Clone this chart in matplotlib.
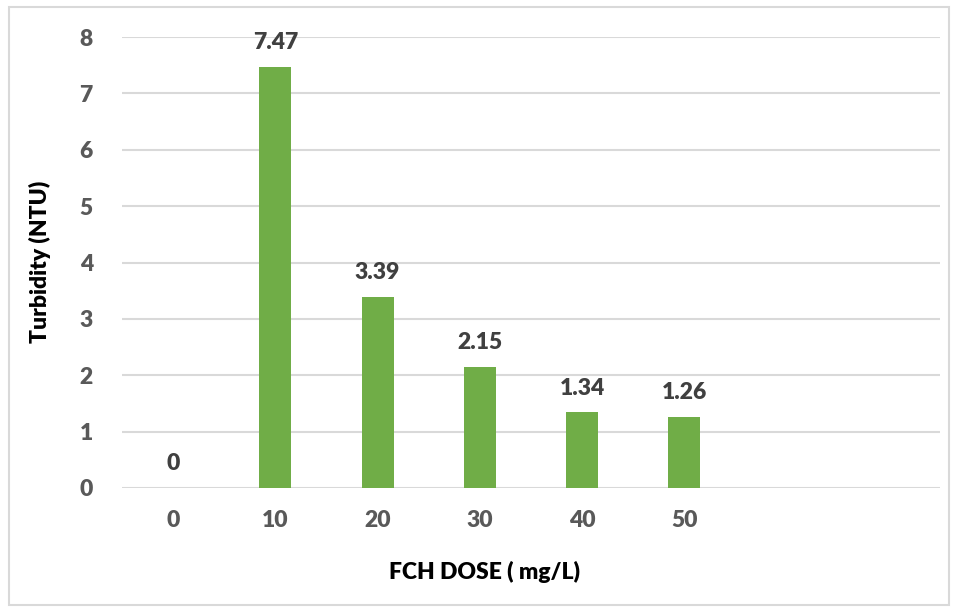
import matplotlib.pyplot as plt
from matplotlib.patches import Rectangle

doses = ['0', '10', '20', '30', '40', '50', '', '']
turbidity = [0, 7.47, 3.39, 2.15, 1.34, 1.26]

plt.rcParams['font.family'] = ['Lato', 'DejaVu Sans']

fig = plt.figure(figsize=(9.58, 6.08), dpi=100)
fig.patches.append(Rectangle((9 / 958, 3 / 608), 940 / 958, 598 / 608,
                             transform=fig.transFigure, fill=False,
                             edgecolor='#d9d9d9', linewidth=1.5))
ax = fig.add_axes([122 / 958, 1 - 488 / 608, 818 / 958, 451 / 608])

x = list(range(len(doses)))
bars = ax.bar(x[:len(turbidity)], turbidity, width=0.313, color='#70ad47', zorder=3)

for xi, v in zip(x, turbidity):
    ax.annotate(f'{v:g}', (xi, v), xytext=(0, 10), textcoords='offset points',
                ha='center', va='bottom', fontsize=16.5, fontweight='heavy', color='#404040')

ax.set_xlim(-0.5, len(doses) - 0.5)
ax.set_ylim(0, 8)
ax.set_xticks(x)
ax.set_xticklabels(doses)
ax.set_yticks(range(0, 9))
ax.tick_params(length=0, labelsize=16.5, labelcolor='#595959')
ax.tick_params(axis='x', pad=16)
ax.tick_params(axis='y', pad=21)
for lab in ax.get_xticklabels() + ax.get_yticklabels():
    lab.set_fontweight('heavy')

ax.grid(axis='y', color='#d9d9d9', linewidth=1.5, zorder=0)
for s in ax.spines.values():
    s.set_visible(False)

fig.text(485 / 958, 1 - 572 / 608, 'FCH DOSE ( mg/L)', fontsize=16.5, fontweight='heavy',
         color='black', ha='center', va='center')
fig.text(40 / 958, 1 - 262 / 608, 'Turbidity (NTU)', fontsize=16.5, fontweight='heavy',
         color='black', ha='center', va='center', rotation=90)

fig.savefig('out.png', dpi=100)
